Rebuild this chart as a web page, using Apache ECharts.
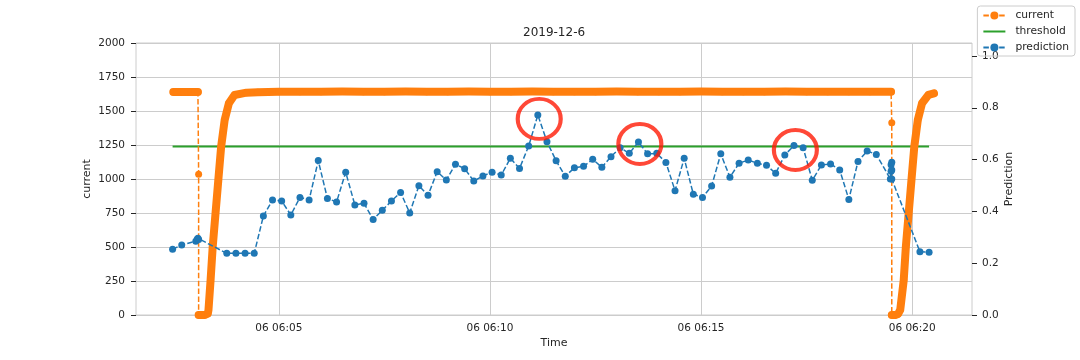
<!DOCTYPE html>
<html>
<head>
<meta charset="utf-8">
<script src="https://cdn.jsdelivr.net/npm/echarts@6/dist/echarts.min.js"></script>
<style>
  html, body { margin: 0; background: #fff; }
  #main { width: 1080px; height: 360px; }
</style>
</head>
<body>
<div id="main"></div>
<script>
const day = '2019-12-06 ';

// current (left axis)
const currentTimes = [
  '06:02:30', '06:02:35', '06:02:40', '06:02:45', '06:02:50', '06:02:55', '06:03:00', '06:03:05',
  '06:03:06', '06:03:06', '06:03:10', '06:03:15', '06:03:19',
  '06:03:20', '06:03:23', '06:03:26', '06:03:30', '06:03:34', '06:03:38', '06:03:43', '06:03:49', '06:03:57', '06:04:14',
  '06:04:30', '06:05:00', '06:05:30', '06:06:00', '06:06:30', '06:07:00', '06:07:30', '06:08:00',
  '06:08:30', '06:09:00', '06:09:30', '06:10:00', '06:10:30', '06:11:00', '06:11:30', '06:12:00',
  '06:12:30', '06:13:00', '06:13:30', '06:14:00', '06:14:30', '06:15:00', '06:15:30', '06:16:00',
  '06:16:30', '06:17:00', '06:17:30', '06:18:00', '06:18:30', '06:19:00', '06:19:30',
  '06:19:31', '06:19:31', '06:19:36', '06:19:40',
  '06:19:43', '06:19:48', '06:19:51', '06:19:55', '06:19:59', '06:20:03', '06:20:08', '06:20:14', '06:20:23', '06:20:31'
];
const currentValues = [
  1640, 1640, 1640, 1640, 1640, 1640, 1640, 1640,
  1035, 0, 0, 0, 10,
  37, 257, 502, 748, 993, 1238, 1434, 1557, 1618, 1635,
  1638, 1641, 1642, 1642, 1643, 1642, 1642, 1643,
  1642, 1642, 1643, 1642, 1642, 1643, 1642, 1642,
  1642, 1643, 1642, 1642, 1642, 1643, 1642, 1642,
  1642, 1643, 1642, 1642, 1642, 1642, 1642,
  1414, 0, 0, 8,
  37, 257, 502, 748, 993, 1238, 1434, 1557, 1618, 1630
];

// prediction (right axis)
const predictionTimes = [
  '06:02:29', '06:02:42', '06:03:02', '06:03:04', '06:03:05', '06:03:06',
  '06:03:46', '06:03:59', '06:04:12', '06:04:25', '06:04:38', '06:04:51', '06:05:04', '06:05:17',
  '06:05:30', '06:05:43', '06:05:56', '06:06:09', '06:06:22', '06:06:35', '06:06:48', '06:07:01',
  '06:07:14', '06:07:27', '06:07:40', '06:07:53', '06:08:06', '06:08:19', '06:08:32', '06:08:45',
  '06:08:58', '06:09:11', '06:09:24', '06:09:37', '06:09:50', '06:10:03', '06:10:16', '06:10:29',
  '06:10:42', '06:10:55', '06:11:08', '06:11:21', '06:11:34', '06:11:47', '06:12:00', '06:12:13',
  '06:12:26', '06:12:39', '06:12:52', '06:13:05', '06:13:18', '06:13:31', '06:13:44', '06:13:57',
  '06:14:10', '06:14:23', '06:14:36', '06:14:49', '06:15:02', '06:15:15', '06:15:28', '06:15:41',
  '06:15:54', '06:16:07', '06:16:20', '06:16:33', '06:16:46', '06:16:59', '06:17:12', '06:17:25',
  '06:17:38', '06:17:51', '06:18:04', '06:18:17', '06:18:30', '06:18:43', '06:18:56', '06:19:09',
  '06:19:29', '06:19:30', '06:19:30', '06:19:31', '06:19:31', '06:19:31',
  '06:20:11', '06:20:24'
];
const predictionValues = [
  0.254, 0.270, 0.285, 0.292, 0.296, 0.291,
  0.238, 0.238, 0.238, 0.238, 0.382, 0.444, 0.440, 0.386,
  0.454, 0.444, 0.596, 0.450, 0.436, 0.551, 0.425, 0.431,
  0.369, 0.404, 0.440, 0.473, 0.394, 0.499, 0.462, 0.553,
  0.521, 0.582, 0.565, 0.517, 0.537, 0.551, 0.540, 0.605,
  0.566, 0.652, 0.772, 0.669, 0.595, 0.536, 0.568, 0.574,
  0.601, 0.570, 0.611, 0.646, 0.624, 0.668, 0.622, 0.624,
  0.589, 0.480, 0.605, 0.466, 0.454, 0.498, 0.622, 0.532,
  0.586, 0.598, 0.586, 0.578, 0.547, 0.618, 0.654, 0.646,
  0.520, 0.579, 0.583, 0.560, 0.446, 0.593, 0.633, 0.620,
  0.525, 0.555, 0.580, 0.590, 0.560, 0.525,
  0.244, 0.242
];

const thresholdValue = 0.65;

// red highlight circles (prediction axis)
const circleTimes = ['06:11:10', '06:13:33', '06:17:14'];
const circleValues = [0.757, 0.660, 0.637];

const timeTicks = ['06:05:00', '06:10:00', '06:15:00', '06:20:00'];
const timeMin = '06:01:37';
const timeMax = '06:21:25';
const predictionTicks = [0, 0.2, 0.4, 0.6, 0.8, 1.0];

const ts = t => echarts.number.parseDate(day + t).getTime();
const textColor = '#262626';
const gridColor = '#cccccc';
const dash = [5.5, 2.4];

const currentData = currentTimes.map((t, i) => [ts(t), currentValues[i]]);
// thick band where samples are dense: break it at the sudden drops
const bandData = [];
currentData.forEach((p, i) => {
  if (i > 0 && p[1] < currentData[i - 1][1] - 150) bandData.push(null);
  bandData.push(p);
});
const predictionData = predictionTimes.map((t, i) => [ts(t), predictionValues[i]]);
const thresholdData = [
  [ts(predictionTimes[0]), thresholdValue],
  [ts(predictionTimes[predictionTimes.length - 1]), thresholdValue]
];
const circleData = circleTimes.map((t, i) => [ts(t), circleValues[i]]);

const pad = n => String(n).padStart(2, '0');
const timeLabel = v => {
  const d = new Date(v);
  return pad(d.getDate()) + ' ' + pad(d.getHours()) + ':' + pad(d.getMinutes());
};

const chart = echarts.init(document.getElementById('main'));

const option = {
  animation: false,
  textStyle: { fontFamily: 'DejaVu Sans' },
  title: {
    text: '2019-12-6',
    left: 518,
    top: 22,
    textAlign: 'left',
    textStyle: { fontSize: 12, fontWeight: 'normal', color: textColor, fontFamily: 'DejaVu Sans' }
  },
  legend: {
    data: [
      { name: 'current' },
      { name: 'threshold', itemStyle: { opacity: 0 } },
      { name: 'prediction' }
    ],
    orient: 'vertical',
    right: 5,
    top: 6,
    itemWidth: 22,
    itemHeight: 10,
    itemGap: 5,
    padding: [4, 6, 3, 5],
    borderColor: gridColor,
    borderWidth: 1,
    borderRadius: 3,
    textStyle: { fontSize: 10.7, color: textColor, padding: [0, 0, 0, 5] }
  },
  grid: {
    left: 136, right: 108, top: 43, bottom: 45,
    show: true, borderColor: gridColor, borderWidth: 1
  },
  xAxis: {
    type: 'value',
    min: ts(timeMin),
    max: ts(timeMax),
    name: 'Time',
    nameLocation: 'middle',
    nameGap: 23,
    nameMoveOverlap: false,
    nameTextStyle: { fontSize: 11, color: textColor },
    axisLine: { show: false },
    axisTick: { show: false, customValues: timeTicks.map(ts) },
    axisLabel: {
      customValues: timeTicks.map(ts),
      formatter: timeLabel,
      fontSize: 10.5,
      color: textColor,
      margin: 8
    },
    splitLine: { show: true, lineStyle: { color: gridColor, width: 1 } }
  },
  yAxis: [
    {
      type: 'value',
      min: 0,
      max: 2000,
      interval: 250,
      name: 'current',
      nameLocation: 'middle',
      nameRotate: 90,
      nameGap: 43,
      nameMoveOverlap: false,
      nameTextStyle: { fontSize: 11, color: textColor },
      axisLine: { show: false },
      axisTick: { show: true, length: 5, lineStyle: { color: textColor } },
      axisLabel: { fontSize: 10.5, color: textColor, margin: 11, formatter: v => String(v) },
      splitLine: { show: true, lineStyle: { color: gridColor, width: 1 } }
    },
    {
      type: 'value',
      position: 'right',
      min: 0,
      max: 1.05,
      name: 'Prediction',
      nameLocation: 'middle',
      nameRotate: 90,
      nameGap: 32,
      nameMoveOverlap: false,
      nameTextStyle: { fontSize: 11, color: textColor },
      axisLine: { show: false },
      axisTick: { show: true, length: 5, lineStyle: { color: textColor }, customValues: predictionTicks },
      axisLabel: {
        customValues: predictionTicks,
        formatter: v => v.toFixed(1),
        fontSize: 10.5,
        color: textColor,
        margin: 10
      },
      splitLine: { show: false }
    }
  ],
  series: [
    {
      name: 'threshold',
      type: 'line',
      yAxisIndex: 1,
      data: thresholdData,
      symbol: 'none',
      color: '#2ca02c',
      lineStyle: { color: '#2ca02c', width: 2 },
      z: 1
    },
    {
      name: 'current band',
      type: 'line',
      yAxisIndex: 0,
      data: bandData,
      showSymbol: false,
      connectNulls: false,
      silent: true,
      lineStyle: { color: '#ff7f0e', width: 8, cap: 'round', join: 'round' },
      z: 2
    },
    {
      name: 'current',
      type: 'line',
      yAxisIndex: 0,
      data: currentData,
      symbol: 'circle',
      symbolSize: 7,
      showAllSymbol: true,
      color: '#ff7f0e',
      itemStyle: { color: '#ff7f0e' },
      lineStyle: { color: '#ff7f0e', width: 1.5, type: dash },
      z: 3
    },
    {
      name: 'prediction',
      type: 'line',
      yAxisIndex: 1,
      data: predictionData,
      symbol: 'circle',
      symbolSize: 7,
      showAllSymbol: true,
      color: '#1f77b4',
      itemStyle: { color: '#1f77b4' },
      lineStyle: { color: '#1f77b4', width: 1.5, type: dash },
      z: 4
    },
    {
      name: 'highlight',
      type: 'scatter',
      yAxisIndex: 1,
      data: circleData,
      symbol: 'circle',
      symbolSize: [43, 40],
      silent: true,
      itemStyle: { color: 'rgba(0,0,0,0)', borderColor: '#ff1a05', borderWidth: 4 },
      z: 5
    }
  ]
};

chart.setOption(option);
</script>
</body>
</html>
